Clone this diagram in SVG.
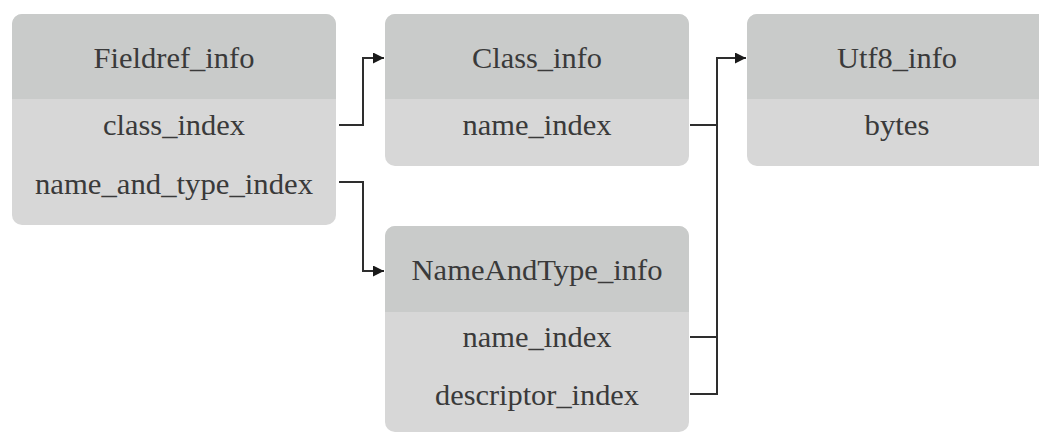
<svg xmlns="http://www.w3.org/2000/svg" width="1039" height="434" viewBox="0 0 1039 434">
<style>
.body{fill:#d7d7d7}
.head{fill:#c9cbca}
text{font-family:"Liberation Serif","Times New Roman",serif;font-size:30px;fill:#3a3a3a;text-anchor:middle}
.ln{fill:none;stroke:#2e2e2e;stroke-width:2}
</style>
<defs>
<marker id="arr" viewBox="0 0 10 10" refX="10" refY="5" markerWidth="13" markerHeight="11" markerUnits="userSpaceOnUse" orient="auto">
<path d="M0,0 L10,5 L0,10 z" fill="#1a1a1a"/>
</marker>
</defs>
<rect width="1039" height="434" fill="#ffffff"/>
<g id="fieldref">
<rect class="body" x="12" y="14" width="324" height="211" rx="10"/>
<path class="head" d="M12,99 V24 A10,10 0 0 1 22,14 H326 A10,10 0 0 1 336,24 V99 z"/>
<text x="174" y="68" textLength="161" lengthAdjust="spacingAndGlyphs">Fieldref_info</text>
<text x="174" y="135" textLength="142" lengthAdjust="spacingAndGlyphs">class_index</text>
<text x="174" y="194" textLength="278" lengthAdjust="spacingAndGlyphs">name_and_type_index</text>
</g>
<g id="class_info">
<rect class="body" x="385" y="14" width="304" height="152" rx="10"/>
<path class="head" d="M385,99 V24 A10,10 0 0 1 395,14 H679 A10,10 0 0 1 689,24 V99 z"/>
<text x="537" y="68" textLength="130" lengthAdjust="spacingAndGlyphs">Class_info</text>
<text x="537" y="135" textLength="149" lengthAdjust="spacingAndGlyphs">name_index</text>
</g>
<g id="utf8_info">
<rect class="body" x="747" y="14" width="310" height="152" rx="10"/>
<path class="head" d="M747,99 V24 A10,10 0 0 1 757,14 H1047 A10,10 0 0 1 1057,24 V99 z"/>
<text x="897" y="68" textLength="120" lengthAdjust="spacingAndGlyphs">Utf8_info</text>
<text x="897" y="135" textLength="65" lengthAdjust="spacingAndGlyphs">bytes</text>
</g>
<g id="nameandtype_info">
<rect class="body" x="385" y="226" width="304" height="206" rx="10"/>
<path class="head" d="M385,312 V236 A10,10 0 0 1 395,226 H679 A10,10 0 0 1 689,236 V312 z"/>
<text x="537" y="280" textLength="251" lengthAdjust="spacingAndGlyphs">NameAndType_info</text>
<text x="537" y="347" textLength="149" lengthAdjust="spacingAndGlyphs">name_index</text>
<text x="537" y="405" textLength="204" lengthAdjust="spacingAndGlyphs">descriptor_index</text>
</g>
<g id="connectors">
<path class="ln" d="M339,125 H363 V58 H384" marker-end="url(#arr)"/>
<path class="ln" d="M339,182 H363 V271 H384" marker-end="url(#arr)"/>
<path class="ln" d="M690,125 H717"/>
<path class="ln" d="M690,337 H717"/>
<path class="ln" d="M690,394 H717 V58 H746" marker-end="url(#arr)"/>
</g>
</svg>
